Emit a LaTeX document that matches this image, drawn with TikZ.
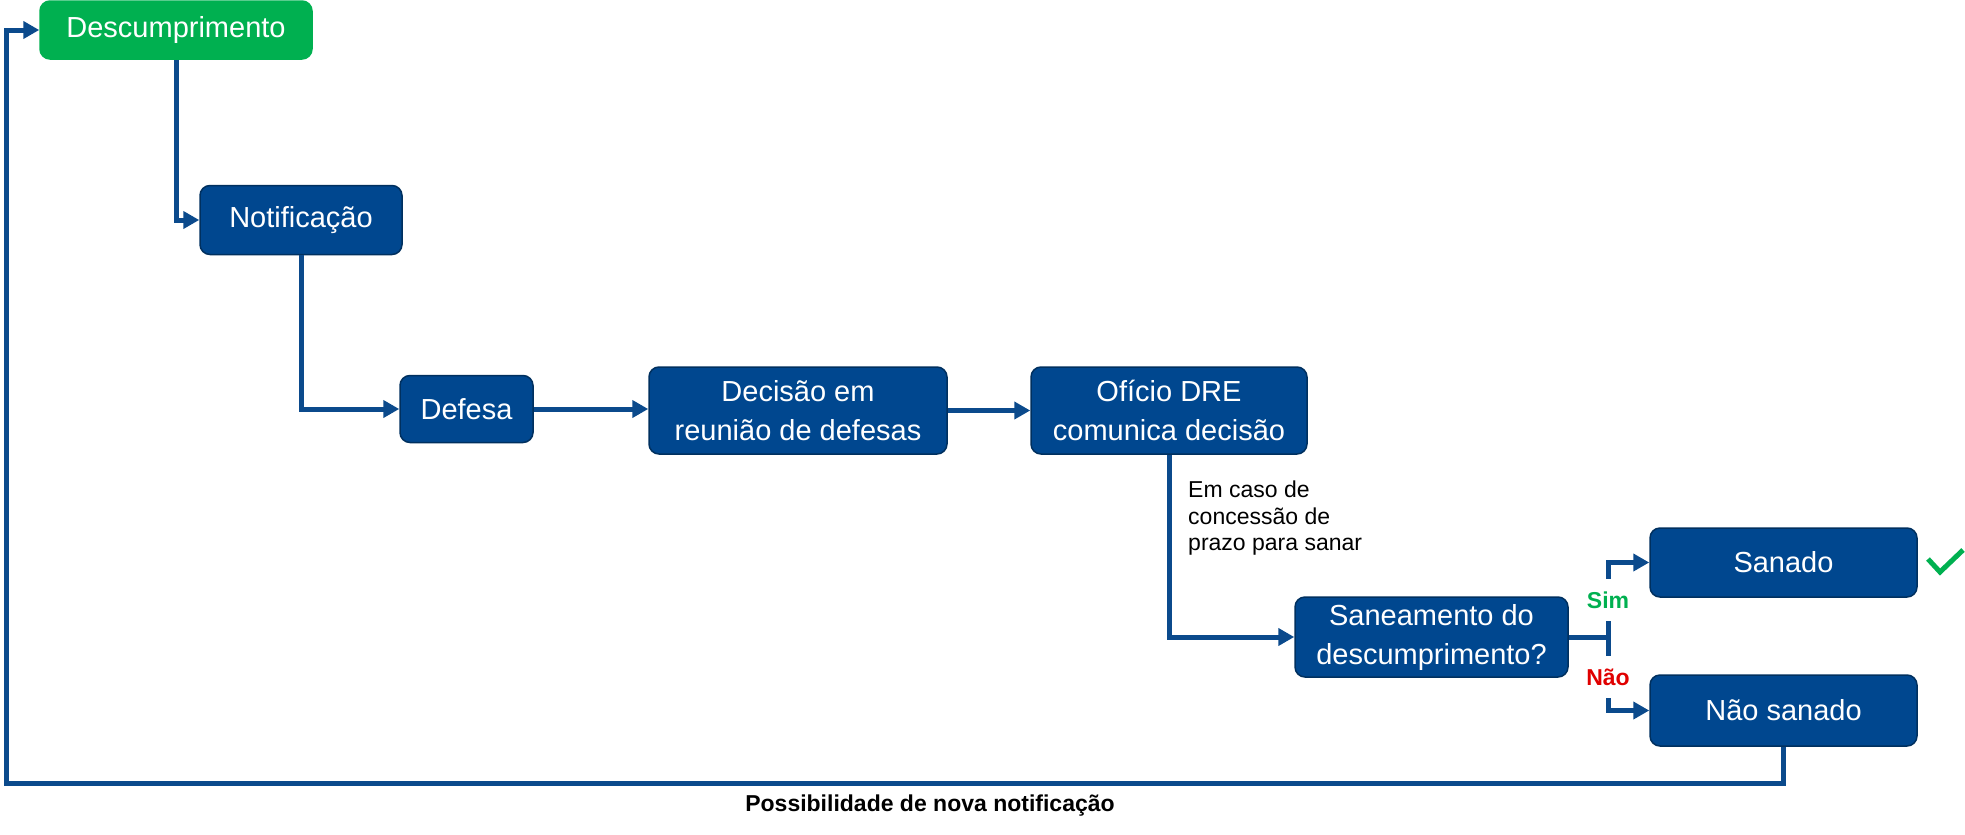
\documentclass[tikz,border=0pt]{standalone}
\usepackage{fontspec}
\setmainfont{Liberation Sans}
\usetikzlibrary{arrows.meta}
\definecolor{boxblue}{HTML}{00478F}
\definecolor{boxedge}{HTML}{00305F}
\definecolor{lineblue}{HTML}{0B4A8C}
\definecolor{figgreen}{HTML}{00B050}
\definecolor{figred}{HTML}{E00000}
\newcommand{\boxfontsize}{\fontsize{29}{39}\selectfont}
\newcommand{\notefontsize}{\fontsize{23}{26.5}\selectfont}
\tikzset{
  every picture/.style = {line join=miter},
  box/.style      = {rectangle, rounded corners=10pt, draw=boxedge, line width=1.5pt,
                     fill=boxblue, text=white, font=\boxfontsize, align=center, inner sep=0pt},
  startbox/.style = {box, draw=figgreen, fill=figgreen},
  flow/.style     = {draw=lineblue, line width=5pt},
  tip/.style      = {flow, -{Triangle[length=16pt, width=17pt]}},
  note/.style     = {font=\notefontsize, align=left, inner sep=0pt},
  answer/.style   = {font=\notefontsize\bfseries, inner sep=0pt, minimum height=42pt},
}

\begin{document}
\begin{tikzpicture}[x=1pt, y=-1pt]   % one unit = one pixel of the layout, y runs down
  \useasboundingbox (0,0) rectangle (1965,835);

  % ---------- steps of the procedure -------------------------------------------
  \node[startbox, minimum width=272pt, minimum height=58pt] (desc)    at (176,30)     {Descumprimento};
  \node[box, minimum width=202pt, minimum height=69pt]      (notif)   at (301,220)    {Notificação};
  \node[box, minimum width=133pt, minimum height=67pt]      (defesa)  at (466.5,409)  {Defesa};
  \node[box, minimum width=298pt, minimum height=87pt]      (decisao) at (798,410.5)  {Decisão em\\reunião de defesas};
  \node[box, minimum width=276pt, minimum height=87pt]      (oficio)  at (1169,410.5) {Ofício DRE\\comunica decisão};
  \node[box, minimum width=273pt, minimum height=80pt]      (saneam)  at (1431.5,637) {Saneamento do\\descumprimento?};
  \node[box, minimum width=267pt, minimum height=69pt]      (sanado)  at (1783.5,562.5) {Sanado};
  \node[box, minimum width=267pt, minimum height=71pt]      (naosan)  at (1783.5,710.5) {Não sanado};

  % ---------- texts beside the lines -------------------------------------------
  \node[note, anchor=north west] (cond) at (1188,481) {Em caso de\\concessão de\\prazo para sanar};
  \node[answer, text=figgreen] (sim) at (1608,600) {Sim};
  \node[answer, text=figred]   (nao) at (1608,677) {Não};
  \node[note, font=\notefontsize\bfseries] (nova) at (930,806) {Possibilidade de nova notificação};

  % ---------- connectors -------------------------------------------------------
  \coordinate (fork)   at (1608,637);   % where the answer splits
  \coordinate (loopbl) at (6,783);      % lower left corner of the return loop

  \draw[tip]  (desc.south) |- (notif.west);
  \draw[tip]  (notif.south) |- (defesa.west);
  \draw[tip]  (defesa.east) -- (defesa.east -| decisao.west);
  \draw[tip]  (decisao.east) -- (oficio.west);
  \draw[tip]  (oficio.south) |- (saneam.west);
  \draw[flow] (saneam.east) -- (fork);
  \draw[flow] (sim.south) -- (nao.north);
  \draw[tip]  (sim.north) |- (sanado.west);
  \draw[tip]  (nao.south) |- (naosan.west);
  \draw[tip]  (naosan.south) |- (loopbl) |- (desc.west);

  % check mark next to the solved case
  \draw[figgreen, line width=5pt] (1928,559) -- (1940,572) -- (1963,550);
\end{tikzpicture}
\end{document}
